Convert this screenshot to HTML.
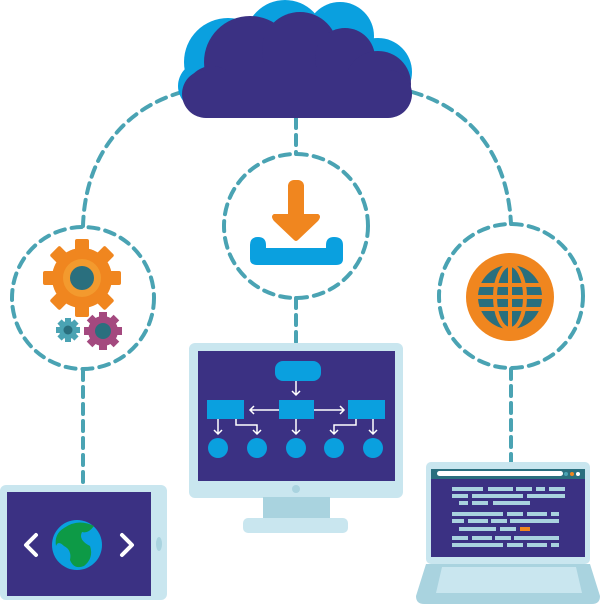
<!DOCTYPE html>
<html><head><meta charset="utf-8"><style>html,body{margin:0;padding:0;background:#fff}svg{display:block}</style></head>
<body>
<svg width="600" height="604" viewBox="0 0 600 604" xmlns="http://www.w3.org/2000/svg">
<g fill="none" stroke="#4aa3b3" stroke-width="4" stroke-dasharray="10 7" stroke-linecap="round">
  <path d="M182 92 C120 110 85 160 83 226"/>
  <path d="M412 92 C475 110 508 160 511 224"/>
  <path d="M296 118 V154"/>
  <circle cx="83" cy="298" r="71"/>
  <circle cx="296" cy="226" r="72"/>
  <circle cx="511" cy="296" r="72"/>
  <path d="M83 370 V486"/>
  <path d="M296 298 V342"/>
  <path d="M511 369 V462"/>
</g>
<!-- cloud -->
<g fill="#0aa0df">
  <circle cx="228" cy="62" r="44"/><circle cx="285" cy="40" r="40"/><circle cx="340" cy="36" r="34"/><circle cx="378" cy="72" r="34"/>
  <rect x="178" y="62" width="228" height="48" rx="24"/>
</g>
<g fill="#3b3183">
  <circle cx="250" cy="62" r="46"/><circle cx="300" cy="50" r="38"/><circle cx="345" cy="58" r="30"/><circle cx="378" cy="84" r="33"/><circle cx="212" cy="92" r="26"/>
  <rect x="182" y="70" width="230" height="48" rx="24"/>
</g>
<!-- gears -->
<g transform="translate(82,278)">
  <g fill="#f0861f">
    <circle r="30"/>
    <g id="t"><rect x="-7" y="-39" width="14" height="14" rx="2"/></g>
    <use href="#t" transform="rotate(45)"/><use href="#t" transform="rotate(90)"/><use href="#t" transform="rotate(135)"/><use href="#t" transform="rotate(180)"/><use href="#t" transform="rotate(225)"/><use href="#t" transform="rotate(270)"/><use href="#t" transform="rotate(315)"/>
  </g>
  <circle r="19" fill="#f39a2e"/><circle r="12" fill="#2a6f7e"/>
</g>
<g transform="translate(68,330)" fill="#4aa3b3">
  <circle r="9"/><rect x="-3" y="-12" width="6" height="24"/><rect x="-12" y="-3" width="24" height="6"/>
  <rect x="-3" y="-12" width="6" height="24" transform="rotate(45)"/><rect x="-3" y="-12" width="6" height="24" transform="rotate(-45)"/>
  <circle r="4.5" fill="#2a6f7e"/>
</g>
<g transform="translate(103,331)" fill="#a4497f">
  <circle r="15"/><rect x="-4" y="-19" width="8" height="38"/><rect x="-19" y="-4" width="38" height="8"/>
  <rect x="-4" y="-19" width="8" height="38" transform="rotate(45)"/><rect x="-4" y="-19" width="8" height="38" transform="rotate(-45)"/>
  <circle r="8" fill="#2a6f7e"/>
</g>
<!-- download -->
<rect x="288" y="180" width="16" height="40" rx="6" fill="#f0861f"/>
<path d="M274 214 H318 Q322 216 318 221 L298 240 Q296 242 294 240 L274 221 Q270 216 274 214Z" fill="#f0861f"/>
<path d="M258 237 Q266 237 266 245 V248 H326 V245 Q326 237 334 237 Q343 237 343 245 V259 Q343 265 336 265 H257 Q250 265 250 259 V245 Q250 237 258 237Z" fill="#0aa0df"/>
<!-- globe right -->
<circle cx="510" cy="297" r="44" fill="#f0861f"/>
<circle cx="510" cy="297" r="32" fill="#2a6f7e"/>
<g stroke="#f0861f" stroke-width="4" fill="none">
  <path d="M476 285 H544 M476 309 H544 M478 297 H542"/>
  <ellipse cx="510" cy="297" rx="15" ry="32"/>
  <path d="M510 264 V330"/>
</g>
<!-- monitor -->
<rect x="189" y="343" width="214" height="155" rx="6" fill="#c9e6ef"/>
<rect x="198" y="351" width="197" height="130" fill="#3b3183"/>
<circle cx="296" cy="489" r="4" fill="#a9d3df"/>
<rect x="263" y="497" width="67" height="23" fill="#a9d3df"/>
<rect x="243" y="518" width="105" height="15" rx="5" fill="#c9e6ef"/>
<g fill="#0aa0df">
  <rect x="275" y="361" width="46" height="20" rx="8"/>
  <rect x="279" y="400" width="35" height="19"/>
  <rect x="207" y="400" width="37" height="19"/>
  <rect x="348" y="400" width="37" height="19"/>
  <circle cx="218" cy="448" r="10"/><circle cx="257" cy="448" r="10"/><circle cx="296" cy="448" r="10"/><circle cx="334" cy="448" r="10"/><circle cx="373" cy="448" r="10"/>
</g>
<g stroke="#fff" stroke-width="1.5" fill="none">
  <path d="M296 381 V395 M292 391 L296 395 L300 391"/>
  <path d="M279 410 H250 M254 406 L250 410 L254 414"/>
  <path d="M314 410 H344 M340 406 L344 410 L340 414"/>
  <path d="M218 419 V434 M214 430 L218 434 L222 430"/>
  <path d="M236 419 V425 H257 V434 M253 430 L257 434 L261 430"/>
  <path d="M296 419 V434 M292 430 L296 434 L300 430"/>
  <path d="M356 419 V425 H334 V434 M330 430 L334 434 L338 430"/>
  <path d="M373 419 V434 M369 430 L373 434 L377 430"/>
</g>
<!-- laptop -->
<rect x="426" y="462" width="164" height="102" rx="5" fill="#c9e6ef"/>
<rect x="431" y="469" width="154" height="88" fill="#3b3183"/>
<rect x="431" y="469" width="154" height="10" fill="#2a6f7e"/>
<rect x="437" y="471" width="126" height="5" rx="2.5" fill="#fff"/>
<circle cx="566" cy="474" r="2" fill="#4aa3b3"/><circle cx="572" cy="474" r="2" fill="#f0861f"/><circle cx="578" cy="474" r="2" fill="#fff"/>
<g fill="#a9d3df">
  <rect x="452" y="487" width="31" height="4"/><rect x="488" y="487" width="25" height="4"/><rect x="516" y="487" width="16" height="4"/><rect x="536" y="487" width="9" height="4"/><rect x="549" y="487" width="16" height="4"/>
  <rect x="452" y="494" width="16" height="4"/><rect x="472" y="494" width="51" height="4"/><rect x="527" y="494" width="38" height="4"/>
  <rect x="459" y="501" width="9" height="4"/><rect x="472" y="501" width="16" height="4"/><rect x="493" y="501" width="37" height="4"/>
  <rect x="452" y="512" width="51" height="4"/><rect x="507" y="512" width="16" height="4"/><rect x="527" y="512" width="20" height="4"/><rect x="551" y="512" width="8" height="4"/>
  <rect x="452" y="519" width="12" height="4"/><rect x="468" y="519" width="20" height="4"/><rect x="491" y="519" width="16" height="4"/><rect x="510" y="519" width="49" height="4"/>
  <rect x="459" y="527" width="37" height="4"/><rect x="500" y="527" width="16" height="4"/>
  <rect x="452" y="536" width="16" height="4"/><rect x="472" y="536" width="20" height="4"/><rect x="495" y="536" width="16" height="4"/><rect x="514" y="536" width="45" height="4"/>
  <rect x="452" y="543" width="51" height="4"/><rect x="507" y="543" width="16" height="4"/><rect x="527" y="543" width="20" height="4"/><rect x="551" y="543" width="8" height="4"/>
</g>
<rect x="520" y="527" width="10" height="4" fill="#f0861f"/>
<path d="M426 564 H590 L600 596 Q600 604 592 604 H424 Q416 604 416 596Z" fill="#a9d3df"/>
<path d="M442 567 H576 L582 593 H436Z" fill="#c9e6ef"/>
<!-- tablet -->
<rect x="0" y="485" width="167" height="115" rx="6" fill="#c9e6ef"/>
<rect x="7" y="492" width="144" height="104" fill="#3b3183"/>
<ellipse cx="159" cy="544" rx="3" ry="7" fill="#a9d3df"/>
<g stroke="#fff" stroke-width="4" fill="none" stroke-linecap="round" stroke-linejoin="round">
  <path d="M36 535 L26 545 L36 555"/><path d="M122 535 L132 545 L122 555"/>
</g>
<circle cx="77" cy="545" r="25" fill="#0aa0df"/>
<path d="M64 528 Q78 518 94 526 Q88 534 82 532 Q78 540 90 546 Q94 558 84 566 Q74 570 70 560 Q72 550 64 546 Q58 540 56 546 Q54 534 64 528Z" fill="#0d9a46"/>
</svg>
</body></html>
